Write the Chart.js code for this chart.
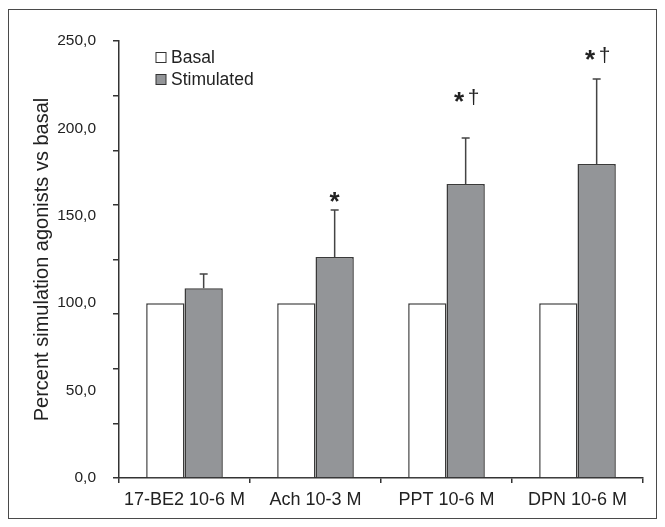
<!DOCTYPE html>
<html>
<head>
<meta charset="utf-8">
<script src="https://cdn.jsdelivr.net/npm/chart.js@4/dist/chart.umd.min.js"></script>
<style>
html,body{margin:0;padding:0;background:#fff;}
#wrap{position:relative;width:665px;height:527px;}
#frame{position:absolute;left:8px;top:9px;width:649px;height:510px;border:1.5px solid #4a4a4a;box-sizing:border-box;}
canvas{position:absolute;left:0;top:0;}
</style>
</head>
<body>
<div id="wrap"><div id="frame"></div><canvas id="c" width="665" height="527"></canvas></div>
<script>
const categories = ['17-BE2 10-6 M', 'Ach 10-3 M', 'PPT 10-6 M', 'DPN 10-6 M'];
const basal = [100, 100, 100, 100];
const stimulated = [108.5, 126.4, 168.2, 179.6];
const stimulatedSD = [8.2, 26.9, 26.3, 48.7];
const marks = ['', '*', '*\u2020', '*\u2020'];
const markValue = [null, 161, 218, 242];
const seriesNames = ['Basal', 'Stimulated'];

const AX = '#333333';
const FONT = "'Liberation Sans', Arial, sans-serif";

const errorBars = {
  id: 'errorBars',
  afterDatasetsDraw(chart) {
    const ctx = chart.ctx;
    const y = chart.scales.y;
    const meta = chart.getDatasetMeta(1);
    ctx.save();
    ctx.strokeStyle = '#444';
    ctx.lineWidth = 1.5;
    meta.data.forEach((bar, i) => {
      const top = y.getPixelForValue(stimulated[i] + stimulatedSD[i]);
      ctx.beginPath();
      ctx.moveTo(bar.x, bar.y);
      ctx.lineTo(bar.x, top);
      ctx.moveTo(bar.x - 4, top);
      ctx.lineTo(bar.x + 4, top);
      ctx.stroke();
    });
    ctx.fillStyle = '#222';
    ctx.textBaseline = 'middle';
    ctx.textAlign = 'center';
    meta.data.forEach((bar, i) => {
      if (!marks[i]) return;
      const py = y.getPixelForValue(markValue[i]);
      const parts = Array.from(marks[i]);
      ctx.font = 'bold 26px ' + FONT;
      if (parts.length === 1) {
        ctx.fillText(parts[0], bar.x, py + 6);
      } else {
        ctx.fillText(parts[0], bar.x - 6.5, py + 6);
        ctx.font = '21px ' + FONT;
        ctx.fillText(parts[1], bar.x + 8, py + 1);
      }
    });
    ctx.restore();
  }
};

const legendBox = {
  id: 'legendBox',
  afterDraw(chart) {
    const ctx = chart.ctx;
    const a = chart.chartArea;
    ctx.save();
    ctx.font = '17.5px ' + FONT;
    ctx.textBaseline = 'middle';
    ctx.textAlign = 'left';
    chart.data.datasets.forEach((ds, i) => {
      const bx = a.left + 37, by = a.top + 11.5 + i * 22;
      ctx.fillStyle = ds.backgroundColor;
      ctx.fillRect(bx, by, 10, 10);
      ctx.strokeStyle = '#333';
      ctx.lineWidth = 1;
      ctx.strokeRect(bx, by, 10, 10);
      ctx.fillStyle = '#222';
      ctx.fillText(ds.label, bx + 15, by + 5.5);
    });
    ctx.restore();
  }
};

new Chart(document.getElementById('c'), {
  type: 'bar',
  data: {
    labels: categories,
    datasets: [
      { label: seriesNames[0], data: basal, backgroundColor: '#ffffff', borderColor: '#3a3a3a', borderWidth: 1.5, categoryPercentage: 0.585, barPercentage: 1 },
      { label: seriesNames[1], data: stimulated, backgroundColor: '#939598', borderColor: '#3a3a3a', borderWidth: 1.5, categoryPercentage: 0.585, barPercentage: 1 }
    ]
  },
  options: {
    responsive: false,
    animation: false,
    layout: { padding: { left: 0, top: 41, right: 22, bottom: 0 } },
    plugins: { legend: { display: false }, tooltip: { enabled: false } },
    scales: {
      x: {
        offset: true,
        grid: { offset: true, drawOnChartArea: false, tickLength: 5, color: AX, lineWidth: 1.5 },
        border: { display: true, color: AX, width: 1.5 },
        ticks: { color: '#222', font: { family: FONT, size: 18 }, padding: 6, maxRotation: 0 },
        afterFit(s) { s.height = 49; }
      },
      y2: {
        position: 'left',
        min: 0, max: 250,
        grid: { drawOnChartArea: false, tickLength: 6, color: AX, lineWidth: 1.5 },
        border: { display: true, color: AX, width: 1.5 },
        ticks: { stepSize: 31.25, display: false },
        afterFit(s) { s.width = 6; }
      },
      y: {
        position: 'left',
        min: 0, max: 250,
        grid: { display: false },
        border: { display: false },
        ticks: { stepSize: 50, color: '#222', font: { family: FONT, size: 15.5 }, padding: 9,
          callback: v => v.toFixed(1).replace('.', ',') },
        title: { display: true, text: 'Percent simulation agonists vs basal', color: '#222',
          font: { family: FONT, size: 20 }, padding: { top: 30, bottom: 0 } },
        afterFit(s) { s.width = 113; }
      }
    }
  },
  plugins: [errorBars, legendBox]
});
</script>
</body>
</html>
